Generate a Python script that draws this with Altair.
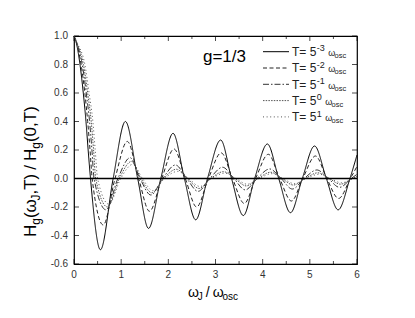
import altair as alt
import pandas as pd

# ---------------- data ----------------
series_names = ["5^-3", "5^-2", "5^-1", "5^0", "5^1"]

x_m3 = [0, 0.05, 0.127, 0.197, 0.254, 0.30, 0.35, 0.56, 0.83, 1.09, 1.35, 1.58, 1.84, 2.10, 2.34,
        2.58, 2.83, 3.11, 3.34, 3.59, 3.83, 4.10, 4.34, 4.59, 4.84, 5.10, 5.35, 5.60, 5.85, 6.00]
y_m3 = [1.00, 0.95, 0.80, 0.60, 0.40, 0.20, 0.00, -0.50, 0.00, 0.40, 0.00, -0.35, 0.00, 0.317, 0.00,
        -0.29, 0.00, 0.27, 0.00, -0.26, 0.00, 0.242, 0.00, -0.24, 0.00, 0.228, 0.00, -0.22, 0.00, 0.165]

x_m2 = [0, 0.055, 0.15, 0.23, 0.29, 0.34, 0.385, 0.62, 0.87, 1.13, 1.37, 1.60, 1.86, 2.12, 2.36,
        2.60, 2.85, 3.12, 3.36, 3.61, 3.85, 4.12, 4.36, 4.61, 4.85, 5.12, 5.36, 5.61, 5.86, 6.00]
y_m2 = [1.00, 0.95, 0.80, 0.60, 0.40, 0.20, 0.00, -0.326, 0.00, 0.26, 0.00, -0.23, 0.00, 0.207, 0.00,
        -0.20, 0.00, 0.18, 0.00, -0.175, 0.00, 0.17, 0.00, -0.158, 0.00, 0.158, 0.00, -0.14, 0.00, 0.085]

x_m1 = [0, 0.06, 0.175, 0.26, 0.33, 0.38, 0.425, 0.68, 0.93, 1.19, 1.40, 1.63, 1.88, 2.15, 2.39,
        2.63, 2.88, 3.15, 3.39, 3.63, 3.88, 4.15, 4.39, 4.63, 4.88, 5.15, 5.39, 5.63, 5.88, 6.00]
y_m1 = [1.00, 0.95, 0.80, 0.60, 0.40, 0.20, 0.00, -0.22, 0.00, 0.146, 0.00, -0.116, 0.00, 0.095, 0.00,
        -0.09, 0.00, 0.079, 0.00, -0.08, 0.00, 0.067, 0.00, -0.074, 0.00, 0.06, 0.00, -0.062, 0.00, 0.03]

x_0 = [0, 0.065, 0.20, 0.29, 0.365, 0.415, 0.46, 0.71, 0.96, 1.22, 1.42, 1.65, 1.90, 2.17, 2.41,
       2.65, 2.90, 3.17, 3.41, 3.65, 3.90, 4.17, 4.41, 4.65, 4.90, 5.17, 5.41, 5.65, 5.90, 6.00]
y_0 = [1.00, 0.95, 0.80, 0.60, 0.40, 0.20, 0.00, -0.20, 0.00, 0.12, 0.00, -0.10, 0.00, 0.065, 0.00,
       -0.07, 0.00, 0.048, 0.00, -0.052, 0.00, 0.044, 0.00, -0.046, 0.00, 0.04, 0.00, -0.04, 0.00, 0.015]

x_p1 = [0, 0.07, 0.23, 0.32, 0.40, 0.45, 0.50, 0.74, 0.99, 1.25, 1.45, 1.67, 1.92, 2.20, 2.43,
        2.67, 2.92, 3.20, 3.43, 3.67, 3.92, 4.20, 4.43, 4.67, 4.92, 5.20, 5.43, 5.67, 5.92, 6.00]
y_p1 = [1.00, 0.95, 0.80, 0.60, 0.40, 0.20, 0.00, -0.18, 0.00, 0.10, 0.00, -0.085, 0.00, 0.05, 0.00,
        -0.056, 0.00, 0.038, 0.00, -0.04, 0.00, 0.034, 0.00, -0.036, 0.00, 0.03, 0.00, -0.03, 0.00, 0.01]

x_tick_values = [0, 1, 2, 3, 4, 5, 6]
x_tick_labels = ["0", "1", "2", "3", "4", "5", "6"]
x_minor_values = [0.5, 1.5, 2.5, 3.5, 4.5, 5.5]
y_tick_values = [-0.6, -0.4, -0.2, 0.0, 0.2, 0.4, 0.6, 0.8, 1.0]
y_tick_labels = ["-0.6", "-0.4", "-0.2", "0.0", "0.2", "0.4", "0.6", "0.8", "1.0"]
legend_sup = ["-3", "-2", "-1", "0", "1"]

# ---------------- build tables ----------------
xs = [x_m3, x_m2, x_m1, x_0, x_p1]
ys = [y_m3, y_m2, y_m1, y_0, y_p1]
rows = []
for name, xv, yv in zip(series_names, xs, ys):
    for a, b in zip(xv, yv):
        rows.append({"x": a, "y": b, "series": name})
df = pd.DataFrame(rows)

FONT = "Liberation Sans"
W, H = 283, 228
dashes = [[1, 0], [4, 2.5], [6, 2, 1.5, 2], [1.5, 1.2], [1, 2.6]]
line_colors = ["#000000", "#222222", "#333333", "#555555", "#555555"]

xscale = alt.Scale(domain=[0, 6], nice=False, zero=False)
yscale = alt.Scale(domain=[-0.6, 1.0], nice=False, zero=False)

x_axis = alt.Axis(values=x_tick_values, labels=False, ticks=False, domain=False, grid=False, title=None)
y_axis = alt.Axis(values=y_tick_values, labels=False, ticks=False, domain=False, grid=False, title=None)

lines = alt.Chart(df).mark_line(interpolate="monotone", strokeWidth=1).encode(
    x=alt.X("x:Q", scale=xscale, axis=x_axis),
    y=alt.Y("y:Q", scale=yscale, axis=y_axis),
    strokeDash=alt.StrokeDash("series:N", scale=alt.Scale(domain=series_names, range=dashes), legend=None),
    color=alt.Color("series:N", scale=alt.Scale(domain=series_names, range=line_colors), legend=None),
    detail="series:N",
)

zero = alt.Chart(pd.DataFrame({"v": [0.0]})).mark_rule(color="black", strokeWidth=1.5).encode(
    y=alt.Y("v:Q", scale=yscale, axis=y_axis)
)

xt = pd.DataFrame({"v": x_tick_values, "lab": x_tick_labels})
xm = pd.DataFrame({"v": x_minor_values})
yt = pd.DataFrame({"v": y_tick_values, "lab": y_tick_labels})

ticks = [
    alt.Chart(xt).mark_tick(orient="vertical", size=5, thickness=1, color="black", yOffset=-2.5)
    .encode(x=alt.X("v:Q", scale=xscale, axis=x_axis), y=alt.YDatum(-0.6)),
    alt.Chart(xm).mark_tick(orient="vertical", size=3, thickness=1, color="black", yOffset=-1.5)
    .encode(x=alt.X("v:Q", scale=xscale, axis=x_axis), y=alt.YDatum(-0.6)),
    alt.Chart(xt).mark_tick(orient="vertical", size=5, thickness=1, color="black", yOffset=2.5)
    .encode(x=alt.X("v:Q", scale=xscale, axis=x_axis), y=alt.YDatum(1.0)),
    alt.Chart(xm).mark_tick(orient="vertical", size=3, thickness=1, color="black", yOffset=1.5)
    .encode(x=alt.X("v:Q", scale=xscale, axis=x_axis), y=alt.YDatum(1.0)),
    alt.Chart(yt).mark_tick(orient="horizontal", size=5, thickness=1, color="black", xOffset=2.5)
    .encode(y=alt.Y("v:Q", scale=yscale, axis=y_axis), x=alt.XDatum(0)),
    alt.Chart(yt).mark_tick(orient="horizontal", size=5, thickness=1, color="black", xOffset=-2.5)
    .encode(y=alt.Y("v:Q", scale=yscale, axis=y_axis), x=alt.XDatum(6)),
]

tick_labels = [
    alt.Chart(xt).mark_text(font=FONT, fontSize=10, color="#333", align="center", baseline="top", dy=6)
    .encode(x=alt.X("v:Q", scale=xscale, axis=x_axis), y=alt.YDatum(-0.6), text=alt.Text("lab:N")),
    alt.Chart(yt).mark_text(font=FONT, fontSize=10, color="#333", align="right", baseline="middle", dx=-6)
    .encode(y=alt.Y("v:Q", scale=yscale, axis=y_axis), x=alt.XDatum(0), text=alt.Text("lab:N")),
]

# ---------------- rich text helpers ----------------
WID = {'H': 0.722, 'g': 0.556, '(': 0.333, ')': 0.333, '\u03c9': 0.70, 'J': 0.5, ',': 0.278,
       'T': 0.611, '/': 0.278, '0': 0.556, 'o': 0.556, 's': 0.5, 'c': 0.5, '=': 0.584,
       '5': 0.556, '-': 0.333, '1': 0.556, '3': 0.556, '2': 0.556}


def tw(s, size):
    return sum(WID.get(ch, 0.556) for ch in s) * size


one = pd.DataFrame({"a": [0]})


def rich(pieces, x0, y0, vertical=False, color="black"):
    out = []
    pos = 0.0
    for text, size, shift, gap in pieces:
        if vertical:
            px, py, ang = x0 + shift, y0 - pos, 270
        else:
            px, py, ang = x0 + pos, y0 + shift, 0
        out.append(alt.Chart(one).mark_text(text=text, fontSize=size, font=FONT, align="left",
                                            baseline="alphabetic", angle=ang, color=color)
                   .encode(x=alt.value(px), y=alt.value(py)))
        pos += tw(text, size) + gap
    return out


OM = "\u03c9"
ytitle = rich([("H", 17, 0, 0), ("g", 12, 4, 0), ("(" + OM, 17, 0, 0), ("J", 12, 4, 0),
               (",T)", 17, 0, 4), ("/", 17, 0, 4), ("H", 17, 0, 0), ("g", 12, 4, 0),
               ("(0,T)", 17, 0, 0)], x0=-38.5, y0=201, vertical=True)

xtitle = rich([(OM, 14, 0, 0), ("J", 10, 3, 3), ("/", 14, 0, 3), (OM, 14, 0, 0), ("osc", 10, 3, 0)],
              x0=114, y0=261)

gtext = alt.Chart(one).mark_text(text="g=1/3", fontSize=17, font=FONT, align="center",
                                 baseline="alphabetic", color="black").encode(
    x=alt.XDatum(3.19), y=alt.YDatum(0.818))

legend_layers = []
for i, name in enumerate(series_names):
    ry = 15.7 + 16.3 * i
    legend_layers.append(
        alt.Chart(one).mark_rule(color=line_colors[i], strokeWidth=1, strokeDash=dashes[i])
        .encode(x=alt.value(189), x2=alt.value(215), y=alt.value(ry)))
    legend_layers += rich([("T=", 12, 0, 3.3), ("5", 12, 0, 0.5), (legend_sup[i], 9, -4.5, 3.5),
                           (OM, 9, 0, 0), ("osc", 7.5, 2, 0)],
                          x0=218, y0=ry + 4.2, color="#222")

chart = alt.layer(lines, zero, *ticks, *tick_labels, gtext, *ytitle, *xtitle, *legend_layers).properties(
    width=W, height=H,
    autosize=alt.AutoSizeParams(type="none"),
    padding={"left": 66, "top": 28, "right": 50, "bottom": 46},
).configure_view(stroke="black", strokeWidth=1.2)

chart.save("out.html", embed_options={"renderer": "svg", "actions": False})
